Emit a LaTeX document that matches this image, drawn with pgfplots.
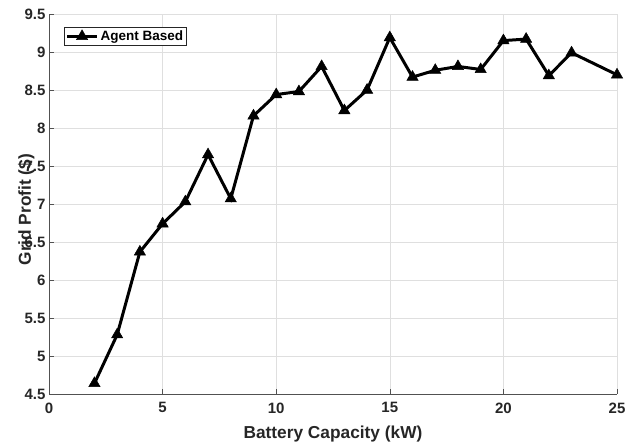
\documentclass[border=0pt]{standalone}
\usepackage{fontspec}
\setmainfont{Liberation Sans}
\usepackage{pgfplots}
\pgfplotsset{compat=1.18}
\definecolor{axgray}{RGB}{38,38,38}
\definecolor{gridgray}{RGB}{223,223,223}
\begin{document}
\begin{tikzpicture}
\begin{axis}[
scale only axis,
width=568pt,
height=380pt,
xmin=0, xmax=25,
ymin=4.5, ymax=9.5,
xtick={0,5,...,25},
ytick={4.5,5,...,9.5},
axis x line=bottom,
axis y line=left,
axis line style={draw=axgray!80, line width=0.8pt, -},
tick align=inside,
major tick length=5pt,
tick style={axgray!80, line width=0.6pt},
grid=major,
grid style={gridgray, line width=0.6pt},
/pgf/number format/assume math mode=true,
ticklabel style={font=\fontsize{15}{17}\selectfont\bfseries, text=axgray},
xticklabel style={yshift=-5pt},
xlabel={Battery Capacity (kW)},
ylabel={Grid Profit (\$)},
label style={font=\fontsize{17.3}{20}\selectfont\bfseries, text=axgray},
xlabel style={at={(axis description cs:0.5,0)}, anchor=base, yshift=-44pt},
ylabel style={at={(axis description cs:-0.04,0.485)}, anchor=center},
legend style={at={(axis description cs:0.026,0.966)}, anchor=north west,
  draw=axgray, line width=0.6pt, fill=white, inner sep=1.5pt,
  font=\fontsize{13.5}{15}\selectfont\bfseries, text=black},
legend cell align=left,
legend image code/.code={
  \draw[mark repeat=2, mark phase=2, #1]
  plot coordinates {(0pt,0pt) (15pt,0pt) (30pt,0pt)};},
]
\addplot[black, line width=3pt, mark=triangle*, mark size=6.5pt,
  mark options={solid, line width=0.5pt}]
coordinates {
(2,4.64) (3,5.28) (4,6.37) (5,6.74) (6,7.03) (7,7.65) (8,7.07) (9,8.16)
(10,8.44) (11,8.48) (12,8.81) (13,8.23) (14,8.50) (15,9.19) (16,8.67)
(17,8.76) (18,8.81) (19,8.77) (20,9.15) (21,9.17) (22,8.69) (23,8.99)
(25,8.70)
};
\addlegendentry{Agent Based}
\end{axis}
\pgfresetboundingbox
\path (current axis.south west) ++(-49pt,-51pt) coordinate (bl);
\path (current axis.south west) ++(590pt,394pt) coordinate (tr);
\useasboundingbox (bl) rectangle (tr);
\end{tikzpicture}
\end{document}
